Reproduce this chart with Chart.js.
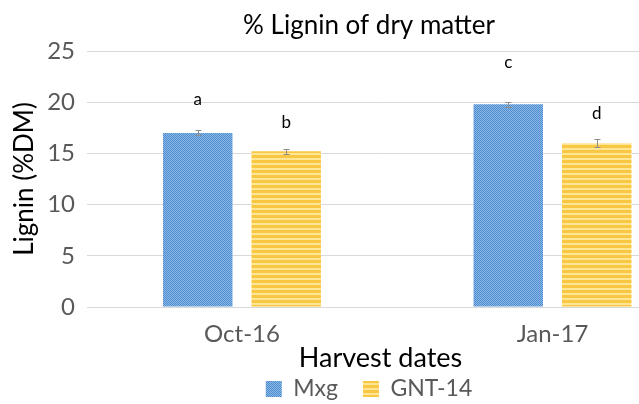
<!DOCTYPE html>
<html><head><meta charset="utf-8">
<script src="https://cdn.jsdelivr.net/npm/chart.js@4"></script>
<style>
html,body{margin:0;padding:0;overflow:hidden;background:#fff}
#wrap{width:639px;height:404px;overflow:hidden;position:relative}
#inner{position:absolute;left:0;top:0;width:738px;height:404px}
</style></head>
<body><div id="wrap"><div id="inner"><canvas id="c" width="738" height="404"></canvas></div></div>
<script>
const categories = ['Oct-16', 'Jan-17'];
const seriesNames = ['Mxg', 'GNT-14'];
const mxgValues = [17.0, 19.8];
const gntValues = [15.2, 16.0];
const mxgErrors = [0.25, 0.25];
const gntErrors = [0.25, 0.4];
const mxgLetters = ['a', 'c'];
const gntLetters = ['b', 'd'];
const mxgLetterAt = [20.3, 23.9];
const gntLetterAt = [18.0, 18.9];
const yTicks = [0, 5, 10, 15, 20, 25];

function makePattern(kind) {
  const t = document.createElement('canvas');
  const ctx = t.getContext('2d');
  if (kind === 'blue') {
    t.width = 4; t.height = 4;
    ctx.fillStyle = '#8dbbe8'; ctx.fillRect(0, 0, 4, 4);
    ctx.fillStyle = '#4d8acd';
    for (let y = 0; y < 4; y++) for (let x = 0; x < 4; x++) if ((x + y) % 2 === 0) ctx.fillRect(x, y, 1, 1);
  } else {
    t.width = 4; t.height = 5;
    ctx.fillStyle = '#fac743'; ctx.fillRect(0, 0, 4, 5);
    ctx.fillStyle = '#ffe596'; ctx.fillRect(0, 3, 4, 2);
  }
  return document.getElementById('c').getContext('2d').createPattern(t, 'repeat');
}

const extras = {
  id: 'extras',
  afterDatasetsDraw(chart) {
    const ctx = chart.ctx;
    const ys = chart.scales.y;
    const errs = [mxgErrors, gntErrors];
    const vals = [mxgValues, gntValues];
    const letters = [mxgLetters, gntLetters];
    const letterAt = [mxgLetterAt, gntLetterAt];
    ctx.save();
    chart.data.datasets.forEach((ds, di) => {
      const meta = chart.getDatasetMeta(di);
      meta.data.forEach((bar, i) => {
        const v = vals[di][i], e = errs[di][i];
        const yt = Math.round(ys.getPixelForValue(v + e)) + 0.5, yb = Math.round(ys.getPixelForValue(v - e)) + 0.5;
        const bx = Math.round(bar.x) + 0.5;
        ctx.strokeStyle = '#8c8c8c'; ctx.lineWidth = 1;
        ctx.beginPath();
        ctx.moveTo(bx, yt); ctx.lineTo(bx, yb);
        ctx.moveTo(bx - 3, yt); ctx.lineTo(bx + 3, yt);
        ctx.moveTo(bx - 3, yb); ctx.lineTo(bx + 3, yb);
        ctx.stroke();
        ctx.fillStyle = '#000';
        ctx.font = '17px Lato';
        ctx.textAlign = 'center'; ctx.textBaseline = 'middle';
        ctx.fillText(letters[di][i], bar.x, ys.getPixelForValue(letterAt[di][i]));
      });
    });
    ctx.restore();
  }
};

const toPoints = vals => vals.map((v, i) => ({ x: i, y: v }));

new Chart(document.getElementById('c'), {
  type: 'bar',
  data: {
    datasets: [
      { label: seriesNames[0], data: toPoints(mxgValues), backgroundColor: makePattern('blue'), borderWidth: 0 },
      { label: seriesNames[1], data: toPoints(gntValues), backgroundColor: makePattern('yellow'), borderWidth: 0 }
    ]
  },
  options: {
    responsive: false,
    animation: false,
    layout: { padding: 0 },
    datasets: { bar: { categoryPercentage: 0.57, barPercentage: 0.785 } },
    plugins: {
      title: { display: true, text: '% Lignin of dry matter', color: '#000', font: { family: 'Lato', size: 26, weight: 'normal' }, padding: { top: 10.4, bottom: 9.4 } },
      legend: {
        position: 'bottom',
        maxHeight: 51.5,
        labels: { color: '#595959', font: { family: 'Lato', size: 23 }, boxWidth: 16, boxHeight: 16, padding: 25 }
      },
      tooltip: { enabled: false }
    },
    scales: {
      x: {
        type: 'linear',
        offset: false,
        min: -0.4992, max: 1.3913,
        afterBuildTicks(axis) { axis.ticks = categories.map((c, i) => ({ value: i })); },
        afterFit(axis) { axis.height = 45.5; },
        grid: { display: false, drawTicks: false, offset: false },
        border: { display: false },
        ticks: { color: '#595959', font: { family: 'Lato', size: 24 }, padding: 13, callback: v => categories[v] },
        title: { display: true, text: 'Harvest dates', color: '#000', font: { family: 'Lato', size: 27 }, padding: { top: 0, bottom: -21.7 } }
      },
      y: {
        min: 0, max: 25,
        afterBuildTicks(axis) { axis.ticks = yTicks.map(v => ({ value: v })); },
        afterFit(axis) { axis.width = 87; },
        grid: { color: '#d9d9d9', drawTicks: false },
        border: { display: false },
        ticks: { color: '#595959', font: { family: 'Lato', size: 24 }, padding: 12 },
        title: { display: true, text: 'Lignin (%DM)', color: '#000', font: { family: 'Lato', size: 26 }, padding: { top: 9.4, bottom: 0 } }
      },
      yRight: {
        position: 'right',
        min: 0, max: 25,
        afterFit(axis) { axis.width = 64; },
        grid: { display: false, drawTicks: false },
        border: { display: false },
        ticks: { display: false }
      }
    }
  },
  plugins: [extras]
});
</script></body></html>
